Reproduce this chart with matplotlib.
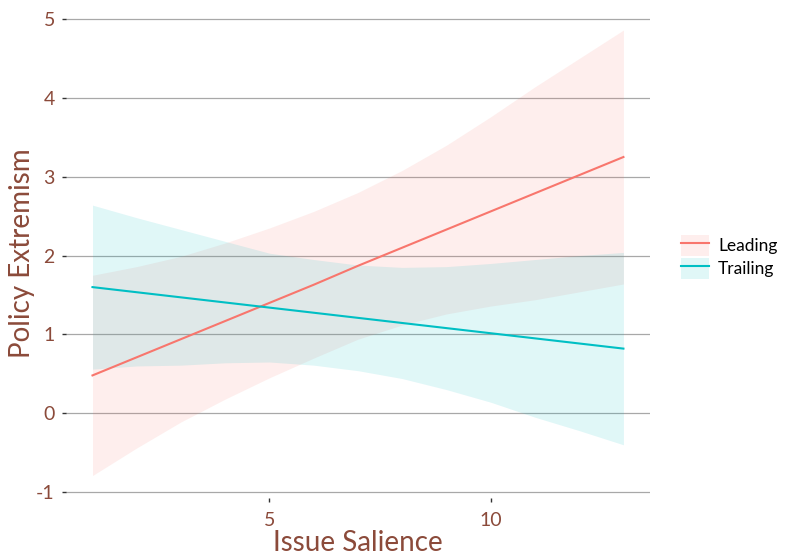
import numpy as np
import matplotlib.pyplot as plt
from matplotlib.patches import Patch
from matplotlib.lines import Line2D

plt.rcParams['font.family'] = ['Lato', 'DejaVu Sans']
plt.rcParams['axes.unicode_minus'] = False

# data
salience = [1, 2, 3, 4, 5, 6, 7, 8, 9, 10, 11, 12, 13]

lead_fit = [0.48, 0.71, 0.94, 1.17, 1.40, 1.63, 1.87, 2.10, 2.33, 2.56, 2.79, 3.02, 3.25]
lead_hi = [1.75, 1.86, 1.99, 2.16, 2.35, 2.56, 2.80, 3.08, 3.40, 3.76, 4.14, 4.50, 4.86]
lead_lo = [-0.79, -0.44, -0.11, 0.18, 0.45, 0.70, 0.94, 1.12, 1.26, 1.36, 1.44, 1.54, 1.64]

trail_fit = [1.60, 1.535, 1.47, 1.405, 1.34, 1.275, 1.21, 1.145, 1.08, 1.015, 0.95, 0.885, 0.82]
trail_hi = [2.64, 2.48, 2.33, 2.18, 2.03, 1.95, 1.88, 1.85, 1.86, 1.90, 1.95, 2.00, 2.04]
trail_lo = [0.56, 0.60, 0.61, 0.64, 0.65, 0.61, 0.54, 0.44, 0.30, 0.14, -0.05, -0.22, -0.40]

groups = ['Leading', 'Trailing']
colors = ['#F8766D', '#00BFC4']

x_ticks = [5, 10]
y_ticks = [-1, 0, 1, 2, 3, 4, 5]

brown = '#8b4a3a'

fig = plt.figure(figsize=(7.85, 5.56), dpi=100)
ax = fig.add_axes([0.084, 0.105, 0.744, 0.8806])

handles = []
for fit, lo, hi, col, name in zip([lead_fit, trail_fit], [lead_lo, trail_lo],
                                  [lead_hi, trail_hi], colors, groups):
    ax.fill_between(salience, lo, hi, color=col, alpha=0.12, linewidth=0, zorder=2)
    ax.plot(salience, fit, color=col, linewidth=1.5, zorder=3)
    handles.append((Patch(facecolor=col, alpha=0.12, edgecolor='none'),
                    Line2D([], [], color=col, linewidth=1.5)))

ax.set_xlim(0.4, 13.6)
ax.set_ylim(-1.07, 5.14)
ax.set_xticks(x_ticks)
ax.set_yticks(y_ticks)
ax.set_yticklabels([str(v) for v in y_ticks])

ax.grid(axis='y', color='#a8a8a8', linewidth=0.9, zorder=1)
ax.grid(axis='x', visible=False)
for s in ax.spines.values():
    s.set_visible(False)

ax.tick_params(axis='both', length=3, width=1, color='#333333',
               labelsize=14, labelcolor=brown)
ax.tick_params(axis='y', pad=5)
ax.tick_params(axis='x', pad=7)

ax.set_xlabel('Issue Salience', fontsize=20, color=brown, labelpad=1)
ax.set_ylabel('Policy Extremism', fontsize=20, color=brown, labelpad=1)

fig.legend(handles, groups, loc='center left', bbox_to_anchor=(0.857, 0.538),
           frameon=False, fontsize=12.5, handlelength=1.6, handleheight=1.5,
           handletextpad=0.5, labelspacing=0.1, borderpad=0)

fig.savefig('out.png', dpi=100)
